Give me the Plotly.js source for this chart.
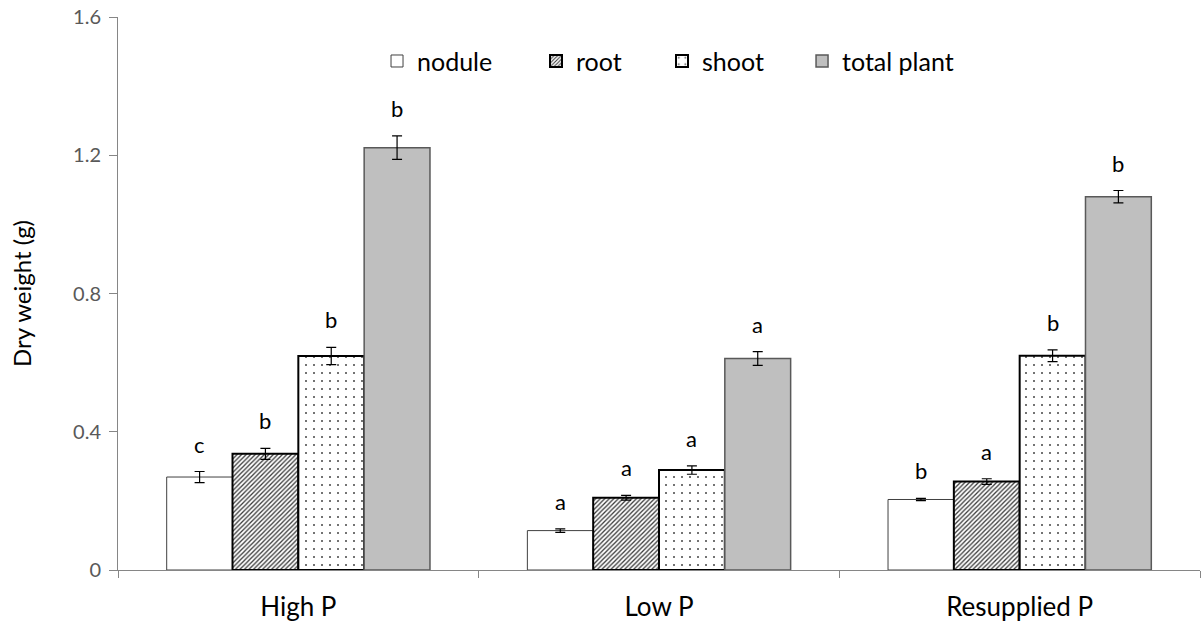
<!DOCTYPE html>
<html>
<head>
<meta charset="utf-8">
<script src="https://cdn.plot.ly/plotly-3.0.1.min.js"></script>
<style>html,body{margin:0;padding:0;background:#fff;}#chart{width:1201px;height:628px;}</style>
</head>
<body>
<div id="chart"></div>
<script>
const categories = ["High P", "Low P", "Resupplied P"];
const seriesNames = ["nodule", "root", "shoot", "total plant"];
const nodule = [0.269, 0.114, 0.204];
const root = [0.336, 0.209, 0.256];
const shoot = [0.619, 0.289, 0.620];
const totalPlant = [1.222, 0.612, 1.080];
const noduleErr = [0.016, 0.005, 0.003];
const rootErr = [0.016, 0.007, 0.008];
const shootErr = [0.025, 0.012, 0.017];
const totalErr = [0.034, 0.020, 0.018];
const noduleLetters = ["c", "a", "b"];
const rootLetters = ["b", "a", "a"];
const shootLetters = ["b", "a", "b"];
const totalLetters = ["b", "a", "b"];

const values = [nodule, root, shoot, totalPlant];
const errs = [noduleErr, rootErr, shootErr, totalErr];
const letters = [noduleLetters, rootLetters, shootLetters, totalLetters];

const FONT = "Lato, 'Open Sans', sans-serif";

const styles = [
  {color: "#ffffff", line: {color: "#404040", width: 1}},
  {color: "#ffffff", line: {color: "#000000", width: 2}, pattern: {shape: "/", fgcolor: "#3a3a3a", bgcolor: "#ffffff", size: 3.2, solidity: 0.4}},
  {color: "#ffffff", line: {color: "#000000", width: 2}, pattern: {shape: ".", fgcolor: "#444444", bgcolor: "#ffffff", size: 8, solidity: 0.05}},
  {color: "#bfbfbf", line: {color: "#595959", width: 1.5}}
];

const legendIds = ["legend", "legend2", "legend3", "legend4"];
const legendX = [0.2394, 0.3863, 0.5028, 0.6322];

const traces = seriesNames.map((name, i) => ({
  type: "bar",
  name: name,
  x: categories,
  y: values[i],
  marker: styles[i],
  legend: legendIds[i],
  error_y: {type: "data", array: errs[i], visible: true, color: "#000000", thickness: 1.2, width: 5},
  hoverinfo: "y"
}));

const bargap = 0.27;
const nS = seriesNames.length;
const barW = (1 - bargap) / nS;
const annotations = [];
for (let s = 0; s < nS; s++) {
  for (let c = 0; c < categories.length; c++) {
    annotations.push({
      x: c - (1 - bargap) / 2 + barW * (s + 0.5),
      y: values[s][c] + errs[s][c],
      xref: "x", yref: "y",
      text: letters[s][c],
      showarrow: false,
      yanchor: "bottom",
      yshift: 12,
      font: {family: FONT, size: 22, color: "#000000"}
    });
  }
}

const layout = {
  width: 1201, height: 628,
  margin: {l: 118, r: 1, t: 17, b: 58},
  paper_bgcolor: "#ffffff", plot_bgcolor: "#ffffff",
  barmode: "group",
  bargap: bargap,
  bargroupgap: 0,
  showlegend: true,
  xaxis: {
    type: "category",
    showline: true, linecolor: "#868686", linewidth: 1,
    ticks: "outside", tickson: "boundaries", ticklen: 7, tickcolor: "#868686",
    tickfont: {family: FONT, size: 26, color: "#000000"},
    ticklabelstandoff: 14,
    showgrid: false, zeroline: false
  },
  yaxis: {
    range: [0, 1.6],
    tickvals: [0, 0.4, 0.8, 1.2, 1.6],
    ticktext: ["0", "0.4", "0.8", "1.2", "1.6"],
    showline: true, linecolor: "#868686", linewidth: 1,
    ticks: "outside", ticklen: 8, tickcolor: "#868686",
    tickfont: {family: FONT, size: 20, color: "#595959"},
    ticklabelstandoff: 4,
    showgrid: false, zeroline: false,
    title: {text: "Dry weight (g)", font: {family: FONT, size: 24, color: "#000000"}, standoff: 34}
  },
  annotations: annotations
};

legendIds.forEach((id, i) => {
  layout[id] = {
    orientation: "h",
    x: legendX[i], y: 0.92, xanchor: "left", yanchor: "middle",
    font: {family: FONT, size: 25, color: "#000000"},
    itemwidth: 30,
    bgcolor: "rgba(0,0,0,0)"
  };
});

Plotly.newPlot("chart", traces, layout, {displayModeBar: false, staticPlot: true});
</script>
</body>
</html>
